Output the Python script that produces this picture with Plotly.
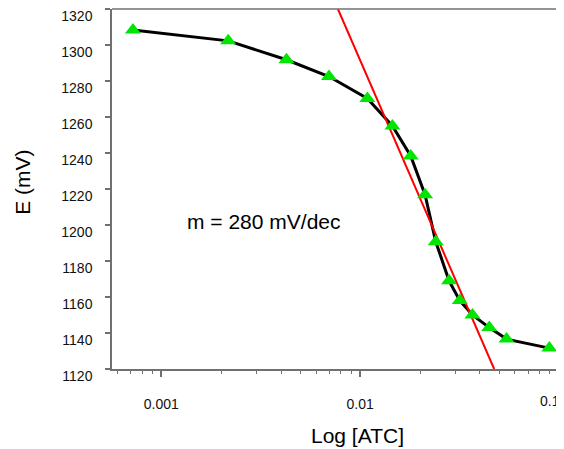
import plotly.graph_objects as go

# Data
atc = [0.00072, 0.00217, 0.00426, 0.00697, 0.01087, 0.01453, 0.01796, 0.0212,
       0.0240, 0.0280, 0.0317, 0.0367, 0.0446, 0.0545, 0.0894]
e_mv = [1308.3, 1302.3, 1291.8, 1282.5, 1270.3, 1255.0, 1238.4, 1216.8,
        1190.7, 1169.0, 1158.0, 1150.0, 1143.0, 1136.6, 1131.6]

fit_x = [0.00773, 0.0472]
fit_y = [1320, 1120]

y_ticks = list(range(1120, 1321, 20))
x_ticks = [0.001, 0.01, 0.1]
x_tick_labels = ["0.001", "0.01", "0.1"]

FONT = "Liberation Sans, Arial, sans-serif"
AX = "#707070"

fig = go.Figure()
fig.add_trace(go.Scatter(x=atc, y=e_mv, mode="lines",
                         line=dict(color="black", width=3), showlegend=False))
fig.add_trace(go.Scatter(x=fit_x, y=fit_y, mode="lines",
                         line=dict(color="#ff0000", width=2), showlegend=False))
fig.add_trace(go.Scatter(x=atc, y=e_mv, mode="markers",
                         marker=dict(symbol="triangle-up", size=14, color="#00e600",
                                     line=dict(width=0)),
                         showlegend=False))

# last x tick label sits at the right edge: drawn as an annotation so it is not hidden
shown_tick_text = x_tick_labels[:-1] + [""]

# the page body adds an 8px offset, so the figure is 8px smaller than the window
fig.update_layout(
    width=556, height=441,
    margin=dict(l=104, r=5, t=1, b=80, autoexpand=False),
    paper_bgcolor="white", plot_bgcolor="white",
    font=dict(family=FONT, color="black"),
    xaxis=dict(type="log", range=[-3.248, -1], tickvals=x_ticks, ticktext=shown_tick_text,
               automargin=False, ticklabeloverflow="allow",
               showgrid=False, zeroline=False, showline=True, linecolor=AX, linewidth=1.5,
               ticks="outside", ticklen=6, tickcolor=AX, tickwidth=1.5,
               tickfont=dict(size=14, family=FONT, color="#111"),
               ticklabelstandoff=15,
               minor=dict(ticks="outside", ticklen=3, tickcolor=AX, tickwidth=1.2,
                          dtick="D1", showgrid=False)),
    yaxis=dict(range=[1120, 1320], tickvals=y_ticks,
               automargin=False, ticklabeloverflow="allow",
               showgrid=False, zeroline=False, showline=True, linecolor=AX, linewidth=1.5,
               ticks="outside", ticklen=5, tickcolor=AX, tickwidth=1.5,
               tickfont=dict(size=14, family=FONT, color="#111"),
               ticklabelstandoff=10, ticklabelshift=7),
    shapes=[dict(type="line", xref="paper", yref="paper", x0=0, x1=1.02, y0=1, y1=1,
                 line=dict(color=AX, width=1.5))],
    annotations=[
        dict(text=x_tick_labels[-1], xref="paper", yref="paper", x=1, y=-0.088,
             xanchor="right", yanchor="middle", xshift=3, showarrow=False,
             font=dict(size=14, family=FONT, color="#111")),
        dict(text="m = 280 mV/dec", xref="paper", yref="paper", x=0.341, y=0.41,
             showarrow=False, font=dict(size=21, family=FONT, color="black"),
             xanchor="center", yanchor="middle"),
        dict(text="Log [ATC]", xref="paper", yref="paper", x=0.549, y=-0.185,
             showarrow=False, font=dict(size=21, family=FONT, color="black"),
             xanchor="center", yanchor="middle"),
        dict(text="E (mV)", xref="paper", yref="paper", x=-0.199, y=0.5175,
             showarrow=False, textangle=-90, font=dict(size=21, family=FONT, color="black"),
             xanchor="center", yanchor="middle"),
    ],
)

fig.write_html("out.html")
